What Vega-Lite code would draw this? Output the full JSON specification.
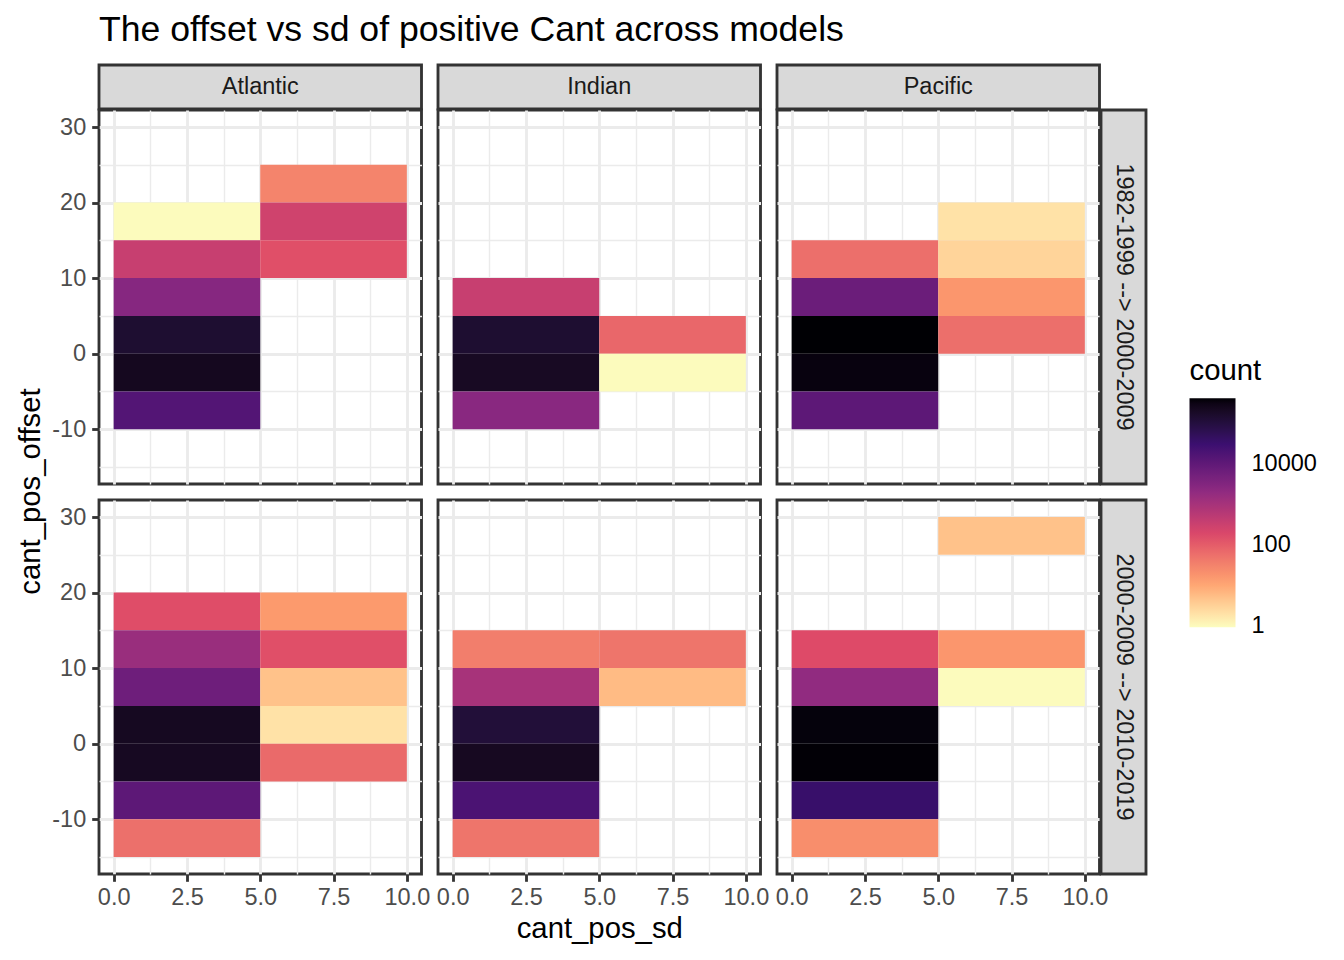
{
  "$schema": "https://vega.github.io/schema/vega-lite/v6.json",
  "background": "white",
  "padding": {"left": 14, "top": 12, "right": 5, "bottom": 5},
  "title": {"text": "The offset vs sd of positive Cant across models", "anchor": "start", "frame": "group", "fontSize": 35.6, "fontWeight": "normal", "font": "Liberation Sans", "color": "#000000", "offset": 11},
  "datasets": {
    "bins": [
      {"basin": "Atlantic", "period": "1982-1999 --> 2000-2009", "sd_lo": 0, "sd_hi": 5, "off_lo": 15, "off_hi": 20, "count": 1},
      {"basin": "Atlantic", "period": "1982-1999 --> 2000-2009", "sd_lo": 0, "sd_hi": 5, "off_lo": 10, "off_hi": 15, "count": 365},
      {"basin": "Atlantic", "period": "1982-1999 --> 2000-2009", "sd_lo": 0, "sd_hi": 5, "off_lo": 5, "off_hi": 10, "count": 2770},
      {"basin": "Atlantic", "period": "1982-1999 --> 2000-2009", "sd_lo": 0, "sd_hi": 5, "off_lo": 0, "off_hi": 5, "count": 140000},
      {"basin": "Atlantic", "period": "1982-1999 --> 2000-2009", "sd_lo": 0, "sd_hi": 5, "off_lo": -5, "off_hi": 0, "count": 230000},
      {"basin": "Atlantic", "period": "1982-1999 --> 2000-2009", "sd_lo": 0, "sd_hi": 5, "off_lo": -10, "off_hi": -5, "count": 15000},
      {"basin": "Atlantic", "period": "1982-1999 --> 2000-2009", "sd_lo": 5, "sd_hi": 10, "off_lo": 20, "off_hi": 25, "count": 31},
      {"basin": "Atlantic", "period": "1982-1999 --> 2000-2009", "sd_lo": 5, "sd_hi": 10, "off_lo": 15, "off_hi": 20, "count": 280},
      {"basin": "Atlantic", "period": "1982-1999 --> 2000-2009", "sd_lo": 5, "sd_hi": 10, "off_lo": 10, "off_hi": 15, "count": 145},
      {"basin": "Indian", "period": "1982-1999 --> 2000-2009", "sd_lo": 0, "sd_hi": 5, "off_lo": 5, "off_hi": 10, "count": 365},
      {"basin": "Indian", "period": "1982-1999 --> 2000-2009", "sd_lo": 0, "sd_hi": 5, "off_lo": 0, "off_hi": 5, "count": 140000},
      {"basin": "Indian", "period": "1982-1999 --> 2000-2009", "sd_lo": 0, "sd_hi": 5, "off_lo": -5, "off_hi": 0, "count": 205000},
      {"basin": "Indian", "period": "1982-1999 --> 2000-2009", "sd_lo": 0, "sd_hi": 5, "off_lo": -10, "off_hi": -5, "count": 2500},
      {"basin": "Indian", "period": "1982-1999 --> 2000-2009", "sd_lo": 5, "sd_hi": 10, "off_lo": 0, "off_hi": 5, "count": 74},
      {"basin": "Indian", "period": "1982-1999 --> 2000-2009", "sd_lo": 5, "sd_hi": 10, "off_lo": -5, "off_hi": 0, "count": 1},
      {"basin": "Pacific", "period": "1982-1999 --> 2000-2009", "sd_lo": 0, "sd_hi": 5, "off_lo": 10, "off_hi": 15, "count": 59},
      {"basin": "Pacific", "period": "1982-1999 --> 2000-2009", "sd_lo": 0, "sd_hi": 5, "off_lo": 5, "off_hi": 10, "count": 7000},
      {"basin": "Pacific", "period": "1982-1999 --> 2000-2009", "sd_lo": 0, "sd_hi": 5, "off_lo": 0, "off_hi": 5, "count": 414000},
      {"basin": "Pacific", "period": "1982-1999 --> 2000-2009", "sd_lo": 0, "sd_hi": 5, "off_lo": -5, "off_hi": 0, "count": 345000},
      {"basin": "Pacific", "period": "1982-1999 --> 2000-2009", "sd_lo": 0, "sd_hi": 5, "off_lo": -10, "off_hi": -5, "count": 11000},
      {"basin": "Pacific", "period": "1982-1999 --> 2000-2009", "sd_lo": 5, "sd_hi": 10, "off_lo": 15, "off_hi": 20, "count": 2},
      {"basin": "Pacific", "period": "1982-1999 --> 2000-2009", "sd_lo": 5, "sd_hi": 10, "off_lo": 10, "off_hi": 15, "count": 3},
      {"basin": "Pacific", "period": "1982-1999 --> 2000-2009", "sd_lo": 5, "sd_hi": 10, "off_lo": 5, "off_hi": 10, "count": 17},
      {"basin": "Pacific", "period": "1982-1999 --> 2000-2009", "sd_lo": 5, "sd_hi": 10, "off_lo": 0, "off_hi": 5, "count": 59},
      {"basin": "Atlantic", "period": "2000-2009 --> 2010-2019", "sd_lo": 0, "sd_hi": 5, "off_lo": 15, "off_hi": 20, "count": 155},
      {"basin": "Atlantic", "period": "2000-2009 --> 2010-2019", "sd_lo": 0, "sd_hi": 5, "off_lo": 10, "off_hi": 15, "count": 1540},
      {"basin": "Atlantic", "period": "2000-2009 --> 2010-2019", "sd_lo": 0, "sd_hi": 5, "off_lo": 5, "off_hi": 10, "count": 6200},
      {"basin": "Atlantic", "period": "2000-2009 --> 2010-2019", "sd_lo": 0, "sd_hi": 5, "off_lo": 0, "off_hi": 5, "count": 220000},
      {"basin": "Atlantic", "period": "2000-2009 --> 2010-2019", "sd_lo": 0, "sd_hi": 5, "off_lo": -5, "off_hi": 0, "count": 212000},
      {"basin": "Atlantic", "period": "2000-2009 --> 2010-2019", "sd_lo": 0, "sd_hi": 5, "off_lo": -10, "off_hi": -5, "count": 11000},
      {"basin": "Atlantic", "period": "2000-2009 --> 2010-2019", "sd_lo": 0, "sd_hi": 5, "off_lo": -15, "off_hi": -10, "count": 57},
      {"basin": "Atlantic", "period": "2000-2009 --> 2010-2019", "sd_lo": 5, "sd_hi": 10, "off_lo": 15, "off_hi": 20, "count": 15},
      {"basin": "Atlantic", "period": "2000-2009 --> 2010-2019", "sd_lo": 5, "sd_hi": 10, "off_lo": 10, "off_hi": 15, "count": 145},
      {"basin": "Atlantic", "period": "2000-2009 --> 2010-2019", "sd_lo": 5, "sd_hi": 10, "off_lo": 5, "off_hi": 10, "count": 5},
      {"basin": "Atlantic", "period": "2000-2009 --> 2010-2019", "sd_lo": 5, "sd_hi": 10, "off_lo": 0, "off_hi": 5, "count": 2},
      {"basin": "Atlantic", "period": "2000-2009 --> 2010-2019", "sd_lo": 5, "sd_hi": 10, "off_lo": -5, "off_hi": 0, "count": 68},
      {"basin": "Indian", "period": "2000-2009 --> 2010-2019", "sd_lo": 0, "sd_hi": 5, "off_lo": 10, "off_hi": 15, "count": 37},
      {"basin": "Indian", "period": "2000-2009 --> 2010-2019", "sd_lo": 0, "sd_hi": 5, "off_lo": 5, "off_hi": 10, "count": 1000},
      {"basin": "Indian", "period": "2000-2009 --> 2010-2019", "sd_lo": 0, "sd_hi": 5, "off_lo": 0, "off_hi": 5, "count": 115000},
      {"basin": "Indian", "period": "2000-2009 --> 2010-2019", "sd_lo": 0, "sd_hi": 5, "off_lo": -5, "off_hi": 0, "count": 215000},
      {"basin": "Indian", "period": "2000-2009 --> 2010-2019", "sd_lo": 0, "sd_hi": 5, "off_lo": -10, "off_hi": -5, "count": 19500},
      {"basin": "Indian", "period": "2000-2009 --> 2010-2019", "sd_lo": 0, "sd_hi": 5, "off_lo": -15, "off_hi": -10, "count": 49},
      {"basin": "Indian", "period": "2000-2009 --> 2010-2019", "sd_lo": 5, "sd_hi": 10, "off_lo": 10, "off_hi": 15, "count": 49},
      {"basin": "Indian", "period": "2000-2009 --> 2010-2019", "sd_lo": 5, "sd_hi": 10, "off_lo": 5, "off_hi": 10, "count": 6},
      {"basin": "Pacific", "period": "2000-2009 --> 2010-2019", "sd_lo": 0, "sd_hi": 5, "off_lo": 10, "off_hi": 15, "count": 165},
      {"basin": "Pacific", "period": "2000-2009 --> 2010-2019", "sd_lo": 0, "sd_hi": 5, "off_lo": 5, "off_hi": 10, "count": 1950},
      {"basin": "Pacific", "period": "2000-2009 --> 2010-2019", "sd_lo": 0, "sd_hi": 5, "off_lo": 0, "off_hi": 5, "count": 370000},
      {"basin": "Pacific", "period": "2000-2009 --> 2010-2019", "sd_lo": 0, "sd_hi": 5, "off_lo": -5, "off_hi": 0, "count": 400000},
      {"basin": "Pacific", "period": "2000-2009 --> 2010-2019", "sd_lo": 0, "sd_hi": 5, "off_lo": -10, "off_hi": -5, "count": 35500},
      {"basin": "Pacific", "period": "2000-2009 --> 2010-2019", "sd_lo": 0, "sd_hi": 5, "off_lo": -15, "off_hi": -10, "count": 22},
      {"basin": "Pacific", "period": "2000-2009 --> 2010-2019", "sd_lo": 5, "sd_hi": 10, "off_lo": 25, "off_hi": 30, "count": 5},
      {"basin": "Pacific", "period": "2000-2009 --> 2010-2019", "sd_lo": 5, "sd_hi": 10, "off_lo": 10, "off_hi": 15, "count": 17},
      {"basin": "Pacific", "period": "2000-2009 --> 2010-2019", "sd_lo": 5, "sd_hi": 10, "off_lo": 5, "off_hi": 10, "count": 1}
    ]
  },
  "columns": 6,
  "spacing": 1,
  "bounds": "flush",
  "concat": [
    {"width": 322.5, "height": 44, "data": {"values": [{"label": "Atlantic"}]}, "mark": {"type": "text", "fontSize": 23.5, "color": "#1A1A1A", "baseline": "middle"}, "encoding": {"text": {"field": "label", "type": "nominal"}}, "view": {"fill": "#D9D9D9", "stroke": "#333333", "strokeWidth": 2.85}},
    {"width": 13.5, "height": 1, "data": {"values": [{}]}, "mark": {"type": "text", "text": ""}, "view": {"stroke": null}},
    {"width": 322.5, "height": 44, "data": {"values": [{"label": "Indian"}]}, "mark": {"type": "text", "fontSize": 23.5, "color": "#1A1A1A", "baseline": "middle"}, "encoding": {"text": {"field": "label", "type": "nominal"}}, "view": {"fill": "#D9D9D9", "stroke": "#333333", "strokeWidth": 2.85}},
    {"width": 13.5, "height": 1, "data": {"values": [{}]}, "mark": {"type": "text", "text": ""}, "view": {"stroke": null}},
    {"width": 322.5, "height": 44, "data": {"values": [{"label": "Pacific"}]}, "mark": {"type": "text", "fontSize": 23.5, "color": "#1A1A1A", "baseline": "middle"}, "encoding": {"text": {"field": "label", "type": "nominal"}}, "view": {"fill": "#D9D9D9", "stroke": "#333333", "strokeWidth": 2.85}},
    {"width": 1, "height": 1, "data": {"values": [{}]}, "mark": {"type": "text", "text": ""}, "view": {"stroke": null}},

    {"width": 322.5, "height": 374, "data": {"name": "bins"},
     "transform": [{"filter": "datum.basin === 'Atlantic' && datum.period === '1982-1999 --> 2000-2009'"}],
     "mark": {"type": "rect"},
     "encoding": {
       "x": {"field": "sd_lo", "type": "quantitative", "scale": {"domain": [-0.5, 10.5], "nice": false, "zero": false},
             "axis": {"values": [0, 1.25, 2.5, 3.75, 5, 6.25, 7.5, 8.75, 10], "grid": true, "gridColor": "#EBEBEB", "gridWidth": {"condition": {"test": "datum.value % 2.5 === 0", "value": 2.85}, "value": 1.42}, "labels": false, "ticks": false, "domain": false, "title": null}},
       "x2": {"field": "sd_hi"},
       "y": {"field": "off_lo", "type": "quantitative", "scale": {"domain": [-17.25, 32.25], "nice": false, "zero": false},
             "axis": {"values": [-15, -10, -5, 0, 5, 10, 15, 20, 25, 30], "grid": true, "gridColor": "#EBEBEB", "gridWidth": {"condition": {"test": "datum.value % 10 === 0", "value": 2.85}, "value": 1.42}, "labels": true, "labelExpr": "datum.value % 10 === 0 ? datum.value + '' : ''", "labelFontSize": 23.5, "labelColor": "#4D4D4D", "labelPadding": 6, "labelOverlap": false, "labelBaseline": "middle", "ticks": true, "tickColor": "#333333", "tickWidth": 2.85, "tickSize": 7.3, "tickOpacity": {"condition": {"test": "datum.value % 10 === 0", "value": 1}, "value": 0}, "domain": false,
                      "title": "cant_pos_offset", "titleFontSize": 29.3, "titleColor": "#000000", "titleFontWeight": "normal", "titleAngle": 270, "titleAlign": "center", "titleBaseline": "alphabetic", "titleX": -60, "titleY": 381}},
       "y2": {"field": "off_hi"},
       "color": {"field": "count", "type": "quantitative", "title": "count", "scale": {"type": "log", "domain": [0.95, 12.75, 171.2, 2298, 30850, 414000], "range": ["#FCFDBF", "#FE9F6D", "#DE4968", "#8C2981", "#3B0F70", "#000004"], "interpolate": "lab"},
                 "legend": {"orient": "none", "legendX": 1090.5, "legendY": 292, "direction": "vertical", "gradientLength": 229, "gradientThickness": 46, "gradientStrokeWidth": 0, "values": [1, 100, 10000], "format": "d", "labelFontSize": 23.5, "labelColor": "#000000", "labelOffset": 16, "labelBaseline": "middle", "titleFontSize": 29.3, "titleColor": "#000000", "titleFontWeight": "normal", "titlePadding": 12}}
     }},
    {"width": 13.5, "height": 1, "data": {"values": [{}]}, "mark": {"type": "text", "text": ""}, "view": {"stroke": null}},
    {"width": 322.5, "height": 374, "data": {"name": "bins"},
     "transform": [{"filter": "datum.basin === 'Indian' && datum.period === '1982-1999 --> 2000-2009'"}],
     "mark": {"type": "rect"},
     "encoding": {
       "x": {"field": "sd_lo", "type": "quantitative", "scale": {"domain": [-0.5, 10.5], "nice": false, "zero": false},
             "axis": {"values": [0, 1.25, 2.5, 3.75, 5, 6.25, 7.5, 8.75, 10], "grid": true, "gridColor": "#EBEBEB", "gridWidth": {"condition": {"test": "datum.value % 2.5 === 0", "value": 2.85}, "value": 1.42}, "labels": false, "ticks": false, "domain": false, "title": null}},
       "x2": {"field": "sd_hi"},
       "y": {"field": "off_lo", "type": "quantitative", "scale": {"domain": [-17.25, 32.25], "nice": false, "zero": false},
             "axis": {"values": [-15, -10, -5, 0, 5, 10, 15, 20, 25, 30], "grid": true, "gridColor": "#EBEBEB", "gridWidth": {"condition": {"test": "datum.value % 10 === 0", "value": 2.85}, "value": 1.42}, "labels": false, "ticks": false, "domain": false, "title": null}},
       "y2": {"field": "off_hi"},
       "color": {"field": "count", "type": "quantitative", "title": "count", "scale": {"type": "log", "domain": [0.95, 12.75, 171.2, 2298, 30850, 414000], "range": ["#FCFDBF", "#FE9F6D", "#DE4968", "#8C2981", "#3B0F70", "#000004"], "interpolate": "lab"}}
     }},
    {"width": 13.5, "height": 1, "data": {"values": [{}]}, "mark": {"type": "text", "text": ""}, "view": {"stroke": null}},
    {"width": 322.5, "height": 374, "data": {"name": "bins"},
     "transform": [{"filter": "datum.basin === 'Pacific' && datum.period === '1982-1999 --> 2000-2009'"}],
     "mark": {"type": "rect"},
     "encoding": {
       "x": {"field": "sd_lo", "type": "quantitative", "scale": {"domain": [-0.5, 10.5], "nice": false, "zero": false},
             "axis": {"values": [0, 1.25, 2.5, 3.75, 5, 6.25, 7.5, 8.75, 10], "grid": true, "gridColor": "#EBEBEB", "gridWidth": {"condition": {"test": "datum.value % 2.5 === 0", "value": 2.85}, "value": 1.42}, "labels": false, "ticks": false, "domain": false, "title": null}},
       "x2": {"field": "sd_hi"},
       "y": {"field": "off_lo", "type": "quantitative", "scale": {"domain": [-17.25, 32.25], "nice": false, "zero": false},
             "axis": {"values": [-15, -10, -5, 0, 5, 10, 15, 20, 25, 30], "grid": true, "gridColor": "#EBEBEB", "gridWidth": {"condition": {"test": "datum.value % 10 === 0", "value": 2.85}, "value": 1.42}, "labels": false, "ticks": false, "domain": false, "title": null}},
       "y2": {"field": "off_hi"},
       "color": {"field": "count", "type": "quantitative", "title": "count", "scale": {"type": "log", "domain": [0.95, 12.75, 171.2, 2298, 30850, 414000], "range": ["#FCFDBF", "#FE9F6D", "#DE4968", "#8C2981", "#3B0F70", "#000004"], "interpolate": "lab"}}
     }},
    {"width": 45, "height": 374, "data": {"values": [{"label": "1982-1999 --> 2000-2009"}]}, "mark": {"type": "text", "fontSize": 23.5, "color": "#1A1A1A", "baseline": "middle", "angle": 90}, "encoding": {"text": {"field": "label", "type": "nominal"}}, "view": {"fill": "#D9D9D9", "stroke": "#333333", "strokeWidth": 2.85}},

    {"width": 1, "height": 13.5, "data": {"values": [{}]}, "mark": {"type": "text", "text": ""}, "view": {"stroke": null}},
    {"width": 1, "height": 13.5, "data": {"values": [{}]}, "mark": {"type": "text", "text": ""}, "view": {"stroke": null}},
    {"width": 1, "height": 13.5, "data": {"values": [{}]}, "mark": {"type": "text", "text": ""}, "view": {"stroke": null}},
    {"width": 1, "height": 13.5, "data": {"values": [{}]}, "mark": {"type": "text", "text": ""}, "view": {"stroke": null}},
    {"width": 1, "height": 13.5, "data": {"values": [{}]}, "mark": {"type": "text", "text": ""}, "view": {"stroke": null}},
    {"width": 1, "height": 13.5, "data": {"values": [{}]}, "mark": {"type": "text", "text": ""}, "view": {"stroke": null}},

    {"width": 322.5, "height": 374, "data": {"name": "bins"},
     "transform": [{"filter": "datum.basin === 'Atlantic' && datum.period === '2000-2009 --> 2010-2019'"}],
     "mark": {"type": "rect"},
     "encoding": {
       "x": {"field": "sd_lo", "type": "quantitative", "scale": {"domain": [-0.5, 10.5], "nice": false, "zero": false},
             "axis": {"values": [0, 1.25, 2.5, 3.75, 5, 6.25, 7.5, 8.75, 10], "grid": true, "gridColor": "#EBEBEB", "gridWidth": {"condition": {"test": "datum.value % 2.5 === 0", "value": 2.85}, "value": 1.42}, "labels": true, "labelExpr": "datum.value % 2.5 === 0 ? format(datum.value, '.1f') : ''", "labelFontSize": 23.5, "labelColor": "#4D4D4D", "labelPadding": 4, "labelOverlap": false, "labelFlush": false, "ticks": true, "tickColor": "#333333", "tickWidth": 2.85, "tickSize": 7.3, "tickOpacity": {"condition": {"test": "datum.value % 2.5 === 0", "value": 1}, "value": 0}, "domain": false, "title": null}},
       "x2": {"field": "sd_hi"},
       "y": {"field": "off_lo", "type": "quantitative", "scale": {"domain": [-17.25, 32.25], "nice": false, "zero": false},
             "axis": {"values": [-15, -10, -5, 0, 5, 10, 15, 20, 25, 30], "grid": true, "gridColor": "#EBEBEB", "gridWidth": {"condition": {"test": "datum.value % 10 === 0", "value": 2.85}, "value": 1.42}, "labels": true, "labelExpr": "datum.value % 10 === 0 ? datum.value + '' : ''", "labelFontSize": 23.5, "labelColor": "#4D4D4D", "labelPadding": 6, "labelOverlap": false, "labelBaseline": "middle", "ticks": true, "tickColor": "#333333", "tickWidth": 2.85, "tickSize": 7.3, "tickOpacity": {"condition": {"test": "datum.value % 10 === 0", "value": 1}, "value": 0}, "domain": false, "title": null}},
       "y2": {"field": "off_hi"},
       "color": {"field": "count", "type": "quantitative", "title": "count", "scale": {"type": "log", "domain": [0.95, 12.75, 171.2, 2298, 30850, 414000], "range": ["#FCFDBF", "#FE9F6D", "#DE4968", "#8C2981", "#3B0F70", "#000004"], "interpolate": "lab"}}
     }},
    {"width": 13.5, "height": 1, "data": {"values": [{}]}, "mark": {"type": "text", "text": ""}, "view": {"stroke": null}},
    {"width": 322.5, "height": 374, "data": {"name": "bins"},
     "transform": [{"filter": "datum.basin === 'Indian' && datum.period === '2000-2009 --> 2010-2019'"}],
     "mark": {"type": "rect"},
     "encoding": {
       "x": {"field": "sd_lo", "type": "quantitative", "scale": {"domain": [-0.5, 10.5], "nice": false, "zero": false},
             "axis": {"values": [0, 1.25, 2.5, 3.75, 5, 6.25, 7.5, 8.75, 10], "grid": true, "gridColor": "#EBEBEB", "gridWidth": {"condition": {"test": "datum.value % 2.5 === 0", "value": 2.85}, "value": 1.42}, "labels": true, "labelExpr": "datum.value % 2.5 === 0 ? format(datum.value, '.1f') : ''", "labelFontSize": 23.5, "labelColor": "#4D4D4D", "labelPadding": 4, "labelOverlap": false, "labelFlush": false, "ticks": true, "tickColor": "#333333", "tickWidth": 2.85, "tickSize": 7.3, "tickOpacity": {"condition": {"test": "datum.value % 2.5 === 0", "value": 1}, "value": 0}, "domain": false,
                      "title": "cant_pos_sd", "titleFontSize": 29.3, "titleColor": "#000000", "titleFontWeight": "normal", "titleBaseline": "alphabetic", "titleY": 63.5}},
       "x2": {"field": "sd_hi"},
       "y": {"field": "off_lo", "type": "quantitative", "scale": {"domain": [-17.25, 32.25], "nice": false, "zero": false},
             "axis": {"values": [-15, -10, -5, 0, 5, 10, 15, 20, 25, 30], "grid": true, "gridColor": "#EBEBEB", "gridWidth": {"condition": {"test": "datum.value % 10 === 0", "value": 2.85}, "value": 1.42}, "labels": false, "ticks": false, "domain": false, "title": null}},
       "y2": {"field": "off_hi"},
       "color": {"field": "count", "type": "quantitative", "title": "count", "scale": {"type": "log", "domain": [0.95, 12.75, 171.2, 2298, 30850, 414000], "range": ["#FCFDBF", "#FE9F6D", "#DE4968", "#8C2981", "#3B0F70", "#000004"], "interpolate": "lab"}}
     }},
    {"width": 13.5, "height": 1, "data": {"values": [{}]}, "mark": {"type": "text", "text": ""}, "view": {"stroke": null}},
    {"width": 322.5, "height": 374, "data": {"name": "bins"},
     "transform": [{"filter": "datum.basin === 'Pacific' && datum.period === '2000-2009 --> 2010-2019'"}],
     "mark": {"type": "rect"},
     "encoding": {
       "x": {"field": "sd_lo", "type": "quantitative", "scale": {"domain": [-0.5, 10.5], "nice": false, "zero": false},
             "axis": {"values": [0, 1.25, 2.5, 3.75, 5, 6.25, 7.5, 8.75, 10], "grid": true, "gridColor": "#EBEBEB", "gridWidth": {"condition": {"test": "datum.value % 2.5 === 0", "value": 2.85}, "value": 1.42}, "labels": true, "labelExpr": "datum.value % 2.5 === 0 ? format(datum.value, '.1f') : ''", "labelFontSize": 23.5, "labelColor": "#4D4D4D", "labelPadding": 4, "labelOverlap": false, "labelFlush": false, "ticks": true, "tickColor": "#333333", "tickWidth": 2.85, "tickSize": 7.3, "tickOpacity": {"condition": {"test": "datum.value % 2.5 === 0", "value": 1}, "value": 0}, "domain": false, "title": null}},
       "x2": {"field": "sd_hi"},
       "y": {"field": "off_lo", "type": "quantitative", "scale": {"domain": [-17.25, 32.25], "nice": false, "zero": false},
             "axis": {"values": [-15, -10, -5, 0, 5, 10, 15, 20, 25, 30], "grid": true, "gridColor": "#EBEBEB", "gridWidth": {"condition": {"test": "datum.value % 10 === 0", "value": 2.85}, "value": 1.42}, "labels": false, "ticks": false, "domain": false, "title": null}},
       "y2": {"field": "off_hi"},
       "color": {"field": "count", "type": "quantitative", "title": "count", "scale": {"type": "log", "domain": [0.95, 12.75, 171.2, 2298, 30850, 414000], "range": ["#FCFDBF", "#FE9F6D", "#DE4968", "#8C2981", "#3B0F70", "#000004"], "interpolate": "lab"}}
     }},
    {"width": 45, "height": 374, "data": {"values": [{"label": "2000-2009 --> 2010-2019"}]}, "mark": {"type": "text", "fontSize": 23.5, "color": "#1A1A1A", "baseline": "middle", "angle": 90}, "encoding": {"text": {"field": "label", "type": "nominal"}}, "view": {"fill": "#D9D9D9", "stroke": "#333333", "strokeWidth": 2.85}}
  ],
  "config": {
    "font": "Liberation Sans",
    "view": {"stroke": "#333333", "strokeWidth": 2.85},
    "axis": {"labelFont": "Liberation Sans", "titleFont": "Liberation Sans"},
    "legend": {"labelFont": "Liberation Sans", "titleFont": "Liberation Sans"}
  }
}
